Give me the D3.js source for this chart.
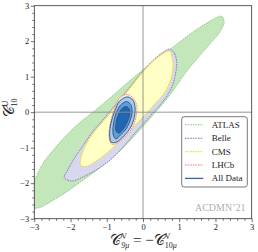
<!DOCTYPE html>
<html>
<head>
<meta charset="utf-8">
<script src="https://cdn.jsdelivr.net/npm/d3@7"></script>
<style>
  body { margin: 0; background: #fff; }
  svg { display: block; }
</style>
</head>
<body>
<div id="chart"></div>
<script>
// contour boundaries, in (C9, C10) units
const atlasRegion = [
  [2.17, 2.70], [2.24, 2.54], [2.12, 2.26], [1.84, 1.92], [1.54, 1.56], [1.21, 1.16],
  [0.90, 0.71], [0.63, 0.34], [0.30, -0.05], [-0.04, -0.45], [-0.37, -0.81], [-0.70, -1.15],
  [-1.06, -1.46], [-1.42, -1.74], [-1.80, -2.02], [-2.16, -2.28], [-2.47, -2.47], [-2.69, -2.61],
  [-2.85, -2.685], [-3.13, -2.685], [-3.12, -2.30], [-2.77, -1.46], [-2.47, -1.06], [-2.13, -0.67],
  [-1.75, -0.30], [-1.31, 0.06], [-0.84, 0.46], [-0.37, 0.88], [0.13, 1.30], [0.68, 1.72],
  [1.23, 2.15], [1.68, 2.46], [1.98, 2.64]
];
const belleRegion = [
  [0.74, 1.78], [0.875, 1.64], [0.93, 1.41], [0.90, 1.10], [0.82, 0.77], [0.68, 0.49],
  [0.49, 0.23], [0.185, -0.12], [-0.15, -0.50], [-0.48, -0.90], [-0.84, -1.29], [-1.25, -1.60],
  [-1.69, -1.84], [-1.97, -1.94], [-2.17, -1.85], [-2.08, -1.63], [-1.89, -1.29], [-1.64, -0.92],
  [-1.42, -0.59], [-1.06, -0.16], [-0.70, 0.29], [-0.34, 0.74], [0.02, 1.19], [0.32, 1.50],
  [0.54, 1.68]
];
const cmsRegion = [
  [0.74, 1.72], [0.79, 1.58], [0.83, 1.39], [0.81, 1.10], [0.72, 0.79], [0.57, 0.51],
  [0.35, 0.26], [0.02, -0.11], [-0.34, -0.50], [-0.70, -0.87], [-1.03, -1.18], [-1.33, -1.40],
  [-1.58, -1.53], [-1.72, -1.49], [-1.72, -1.32], [-1.64, -1.065], [-1.50, -0.78], [-1.28, -0.47],
  [-0.97, -0.11], [-0.64, 0.32], [-0.31, 0.74], [0.02, 1.16], [0.32, 1.47], [0.54, 1.64]
];
const lhcbRegion = [
  [-0.42, 0.50], [-0.27, 0.39], [-0.17, 0.17], [-0.19, -0.11], [-0.27, -0.39], [-0.45, -0.64],
  [-0.67, -0.84], [-0.85, -0.91], [-0.93, -0.75], [-0.93, -0.47], [-0.86, -0.14], [-0.75, 0.20],
  [-0.62, 0.43]
];
const allData3 = [
  [-0.42, 0.43], [-0.28, 0.34], [-0.22, 0.15], [-0.24, -0.14], [-0.34, -0.42], [-0.53, -0.67],
  [-0.75, -0.85], [-0.88, -0.84], [-0.92, -0.64], [-0.89, -0.33], [-0.78, 0.03], [-0.64, 0.32]
];
const allData2 = [
  [-0.45, 0.30], [-0.34, 0.22], [-0.30, 0.03], [-0.34, -0.19], [-0.45, -0.45], [-0.62, -0.64],
  [-0.75, -0.75], [-0.82, -0.64], [-0.82, -0.36], [-0.75, -0.05], [-0.62, 0.20]
];
const allData1 = [
  [-0.46, 0.16], [-0.38, 0.09], [-0.37, -0.05], [-0.42, -0.25], [-0.53, -0.45], [-0.67, -0.59],
  [-0.74, -0.53], [-0.74, -0.28], [-0.67, -0.05], [-0.59, 0.09]
];

const legendNames = ["ATLAS", "Belle", "CMS", "LHCb", "All Data"];
const tickValues = [-3, -2, -1, 0, 1, 2, 3];
const minorTickValues = [-2.8, -2.6, -2.4, -2.2, -1.8, -1.6, -1.4, -1.2, -0.8, -0.6, -0.4, -0.2,
  0.2, 0.4, 0.6, 0.8, 1.2, 1.4, 1.6, 1.8, 2.2, 2.4, 2.6, 2.8];

const width = 258, height = 252;
const margin = {top: 5.7, right: 6.3, bottom: 33.3, left: 34.3};
const plotW = width - margin.left - margin.right;
const plotH = height - margin.top - margin.bottom;
const serif = "'Liberation Serif', 'DejaVu Serif', serif";

const svg = d3.select("#chart").append("svg")
  .attr("width", width)
  .attr("height", height);

svg.append("defs").append("clipPath")
  .attr("id", "plot_clip")
  .append("rect")
  .attr("width", plotW)
  .attr("height", plotH);

const g = svg.append("g")
  .attr("transform", "translate(" + margin.left + "," + margin.top + ")");

const xScale = d3.scaleLinear().domain([-3, 3]).range([0, plotW]);
const yScale = d3.scaleLinear().domain([-3, 3]).range([plotH, 0]);

const outline = d3.line()
  .x(d => xScale(d[0]))
  .y(d => yScale(d[1]))
  .curve(d3.curveCatmullRomClosed.alpha(0.5));

const plot = g.append("g").attr("clip-path", "url(#plot_clip)");

const layers = [
  {data: atlasRegion, fill: "#c3e6bb", stroke: "#84c77a", dash: "1.6,1"},
  {data: belleRegion, fill: "#d8d8ec", stroke: "#7a6fc0", dash: "1.6,1"},
  {data: cmsRegion, fill: "#ffffc6", stroke: "#ece040", dash: null},
  {data: lhcbRegion, fill: "#fbe8e2", stroke: "#ef7d69", dash: "1.6,1"},
  {data: allData3, fill: "#a9cbe9", stroke: "#2d4f86", dash: null},
  {data: allData2, fill: "#5f9dd6", stroke: "#2d4f86", dash: null},
  {data: allData1, fill: "#1f68b1", stroke: "#2d4f86", dash: null}
];

layers.forEach(function(l) {
  plot.append("path")
    .datum(l.data)
    .attr("d", outline)
    .attr("fill", l.fill)
    .attr("stroke", l.stroke)
    .attr("stroke-width", 0.9)
    .attr("stroke-dasharray", l.dash);
});

// zero lines
g.append("line")
  .attr("x1", xScale(0)).attr("x2", xScale(0))
  .attr("y1", 0).attr("y2", plotH)
  .attr("stroke", "#8c8c8c").attr("stroke-width", 0.9);
g.append("line")
  .attr("x1", 0).attr("x2", plotW)
  .attr("y1", yScale(0)).attr("y2", yScale(0))
  .attr("stroke", "#8c8c8c").attr("stroke-width", 0.9);

const fmt = d => d < 0 ? "\u2212" + Math.abs(d) : String(d);

function styleAxis(sel) {
  sel.select(".domain").remove();
  sel.selectAll("line").attr("stroke", "#333").attr("stroke-width", 0.7);
  sel.selectAll("text").attr("font-family", serif).attr("font-size", 8.5).attr("fill", "#222");
}

g.append("g")
  .attr("transform", "translate(0," + plotH + ")")
  .call(d3.axisBottom(xScale).tickValues(minorTickValues).tickSize(2).tickFormat(""))
  .call(styleAxis);
g.append("g")
  .attr("transform", "translate(0," + plotH + ")")
  .call(d3.axisBottom(xScale).tickValues(tickValues).tickSize(3.5).tickPadding(1.5).tickFormat(fmt))
  .call(styleAxis);
g.append("g")
  .call(d3.axisLeft(yScale).tickValues(minorTickValues).tickSize(2).tickFormat(""))
  .call(styleAxis);
g.append("g")
  .call(d3.axisLeft(yScale).tickValues(tickValues).tickSize(3.5).tickPadding(1.5).tickFormat(fmt))
  .call(styleAxis);

g.append("rect")
  .attr("width", plotW)
  .attr("height", plotH)
  .attr("fill", "none")
  .attr("stroke", "#333")
  .attr("stroke-width", 0.8);

// legend
const legendStyles = [
  {stroke: "#84c77a", dash: "1.6,1"},
  {stroke: "#7a6fc0", dash: "1.6,1"},
  {stroke: "#ece040", dash: "1.6,1"},
  {stroke: "#ef7d69", dash: "1.6,1"},
  {stroke: "#3b649e", dash: null}
];

const legend = svg.append("g").attr("transform", "translate(181.7,116.7)");
legend.append("rect")
  .attr("width", 65.6)
  .attr("height", 70.3)
  .attr("rx", 2.5)
  .attr("fill", "#fff")
  .attr("stroke", "#555")
  .attr("stroke-width", 0.8);

const items = legend.selectAll("g.item")
  .data(legendNames)
  .join("g")
  .attr("class", "item")
  .attr("transform", (d, i) => "translate(0," + (8.1 + i * 13.4) + ")");

items.append("line")
  .attr("x1", 3.3).attr("x2", 21.6)
  .attr("stroke", (d, i) => legendStyles[i].stroke)
  .attr("stroke-width", (d, i) => i === 4 ? 1.3 : 1.1)
  .attr("stroke-dasharray", (d, i) => legendStyles[i].dash);

items.append("text")
  .attr("x", 30)
  .attr("dy", "0.33em")
  .attr("font-family", serif)
  .attr("font-size", 9)
  .attr("fill", "#222")
  .text(d => d);

svg.append("text")
  .attr("x", 245.5)
  .attr("y", 211.3)
  .attr("text-anchor", "end")
  .attr("font-family", serif)
  .attr("font-size", 10)
  .attr("fill", "#b0b0b0")
  .text("ACDMN\u201921");

// axis labels
const xl = svg.append("text")
  .attr("x", 143.5)
  .attr("y", 245)
  .attr("text-anchor", "middle")
  .attr("font-family", serif)
  .attr("font-size", 15)
  .attr("fill", "#222");
xl.append("tspan").text("\uD835\uDC9E");
xl.append("tspan").attr("font-size", 8).attr("dy", -6).text("V");
xl.append("tspan").attr("font-size", 8).attr("dx", -5.8).attr("dy", 9).attr("font-style", "italic").text("9\u03BC");
xl.append("tspan").attr("dy", -3).text(" = \u2212");
xl.append("tspan").text("\uD835\uDC9E");
xl.append("tspan").attr("font-size", 8).attr("dy", -6).text("V");
xl.append("tspan").attr("font-size", 8).attr("dx", -5.8).attr("dy", 9).text("10");
xl.append("tspan").attr("font-size", 8).attr("font-style", "italic").text("\u03BC");

const yl = svg.append("text")
  .attr("transform", "translate(14,108) rotate(-90)")
  .attr("text-anchor", "middle")
  .attr("font-family", serif)
  .attr("font-size", 15)
  .attr("fill", "#222");
yl.append("tspan").text("\uD835\uDC9E");
yl.append("tspan").attr("font-size", 8).attr("dy", -6).text("U");
yl.append("tspan").attr("font-size", 8).attr("dx", -5.8).attr("dy", 9).text("10");
</script>
</body>
</html>
